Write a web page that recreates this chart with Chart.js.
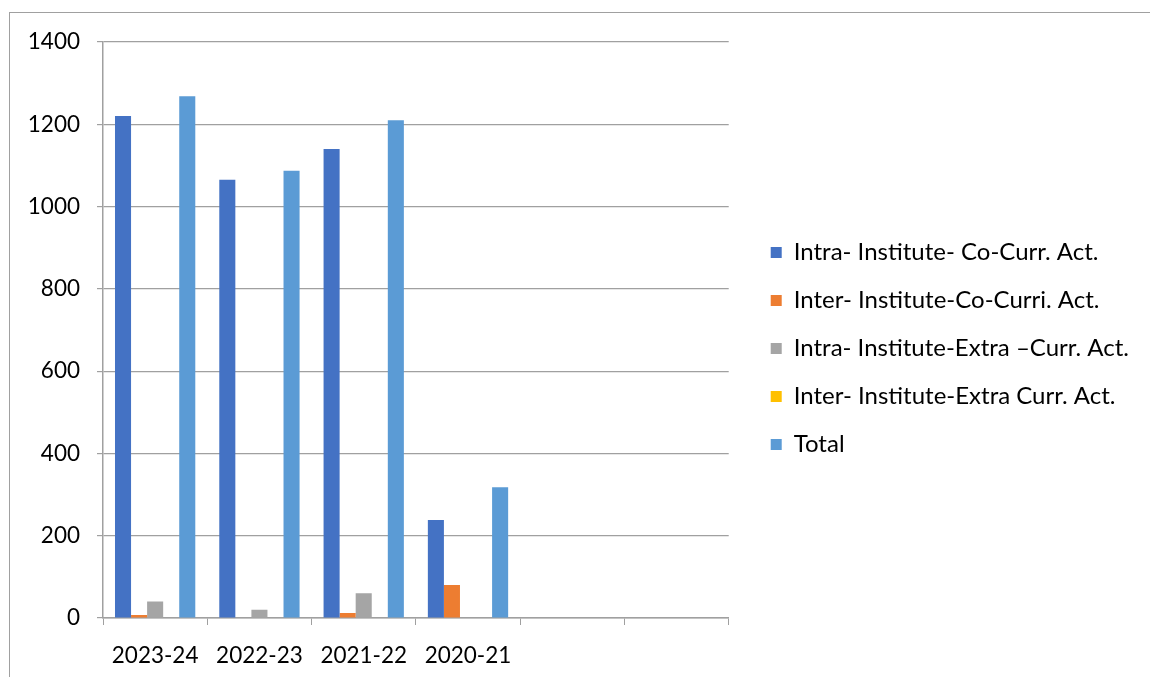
<!DOCTYPE html>
<html>
<head>
<meta charset="utf-8">
<script src="https://cdn.jsdelivr.net/npm/chart.js@4"></script>
<style>
    html, body { margin: 0; padding: 0; background: #fff; overflow: hidden; }
    #frame { position: absolute; left: 9px; top: 12px; width: 1200px; height: 700px;
             border-top: 1.5px solid #a0a0a0; border-left: 1.5px solid #a0a0a0; }
    #chart { position: absolute; left: 0; top: 0; }
</style>
</head>
<body>
<div id="frame"></div>
<canvas id="chart" width="1150" height="677"></canvas>
<script>
// years shown on the x axis (two empty slots at the end, like the original)
const years = ["2023-24", "2022-23", "2021-22", "2020-21", "", ""];

const intraCoCurr  = [1220, 1065, 1140, 238, null, null];
const interCoCurr  = [7, 0, 12, 80, null, null];
const intraExtra   = [40, 20, 60, 0, null, null];
const interExtra   = [0, 0, 0, 0, null, null];
const totals       = [1268, 1087, 1210, 318, null, null];

const seriesNames = [
    "Intra- Institute- Co-Curr. Act.",
    "Inter- Institute-Co-Curri. Act.",
    "Intra- Institute-Extra \u2013Curr. Act.",
    "Inter- Institute-Extra Curr. Act.",
    "Total"
];
const seriesColors = ["#4472C4", "#ED7D31", "#A5A5A5", "#FFC000", "#5B9BD5"];
const yTicks = [0, 200, 400, 600, 800, 1000, 1200, 1400];

const allSeries = [intraCoCurr, interCoCurr, intraExtra, interExtra, totals];
const FONT = "Lato, 'Open Sans', sans-serif";
const GRID = "#a0a0a0";

// empty axis used only to keep some room (no ticks, no lines)
function spacer(pos, size) {
    return {
        position: pos,
        display: true,
        grid: { display: false },
        border: { display: false },
        ticks: { display: false },
        afterFit(s) {
            if (s.isHorizontal()) s.height = size; else s.width = size;
        }
    };
}

new Chart(document.getElementById("chart"), {
    type: "bar",
    data: {
        labels: years,
        datasets: allSeries.map((vals, i) => ({
            label: seriesNames[i],
            data: vals,
            xAxisID: "x",
            yAxisID: "y",
            backgroundColor: seriesColors[i],
            borderWidth: 0,
            barPercentage: 1.0,
            categoryPercentage: 0.77
        }))
    },
    options: {
        responsive: false,
        animation: false,
        devicePixelRatio: 1,
        layout: { padding: { top: 20, right: 11, bottom: 0, left: 0 } },
        plugins: {
            tooltip: { enabled: false },
            legend: {
                position: "right",
                maxWidth: 500,
                labels: {
                    color: "#000",
                    font: { family: FONT, size: 24 },
                    boxWidth: 11,
                    boxHeight: 11,
                    padding: 24
                }
            }
        },
        scales: {
            x: {
                grid: {
                    display: true,
                    offset: true,
                    drawOnChartArea: false,
                    drawTicks: true,
                    tickLength: 7,
                    color: GRID
                },
                border: { display: true, color: GRID, width: 1.5 },
                ticks: {
                    color: "#000",
                    font: { family: FONT, size: 22.5 },
                    padding: 17,
                    maxRotation: 0,
                    autoSkip: false
                },
                afterFit(s) { s.height = 59; }
            },
            y: {
                min: 0,
                max: 1400,
                afterBuildTicks(s) { s.ticks = yTicks.map(v => ({ value: v })); },
                grid: { color: GRID, lineWidth: 1.2, tickLength: 6 },
                border: { display: true, color: GRID, width: 1.5 },
                ticks: {
                    color: "#000",
                    font: { family: FONT, size: 22.5 },
                    padding: 17,
                    callback: v => String(v)
                },
                afterFit(s) { s.width = 103; }
            },
            gapTop: Object.assign({ axis: "x", type: "category" }, spacer("top", 22)),
            gapRight: Object.assign({ axis: "y", type: "linear" }, spacer("right", 18))
        }
    }
});
</script>
</body>
</html>
